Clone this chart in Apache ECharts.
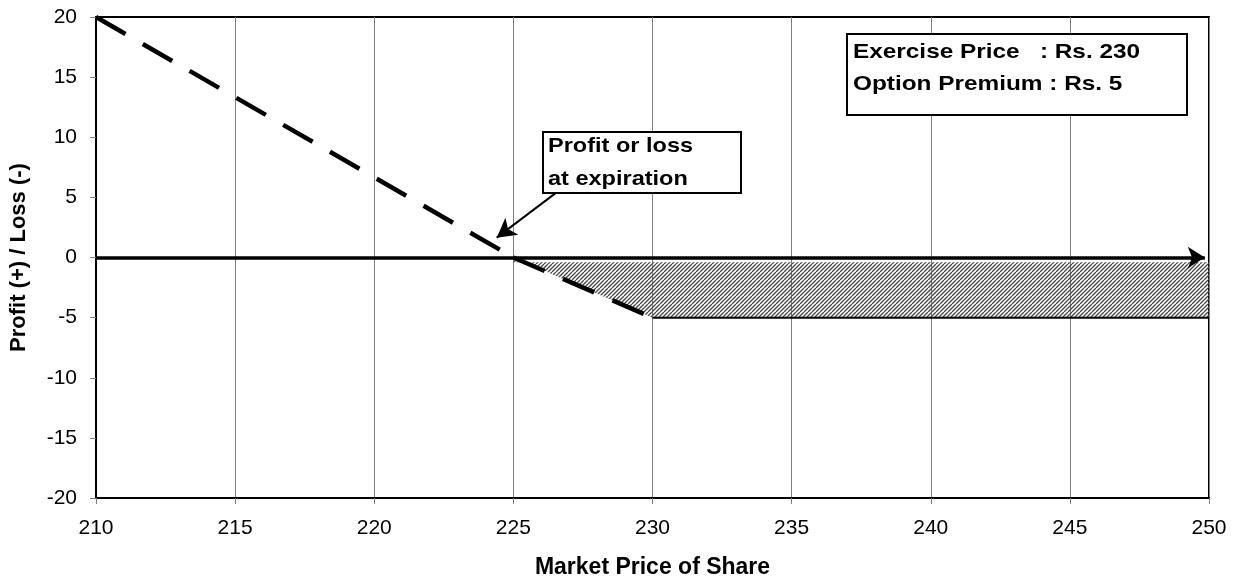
<!DOCTYPE html>
<html>
<head>
<meta charset="utf-8">
<script src="https://cdn.jsdelivr.net/npm/echarts@6/dist/echarts.min.js"></script>
<style>
  html, body { margin: 0; padding: 0; background: #fff; }
  #chart { width: 1245px; height: 584px; }
</style>
</head>
<body>
<div id="chart"></div>
<script>
// payoff of the long put at expiration
var payoffPrices = [210, 225, 230];
var payoffValues = [20, 0, -5];
var flatPrices = [230, 250];
var flatValues = [-5, -5];
// hatched loss zone (premium lost)
var hatchPrices = [225, 230, 250];
var hatchValues = [0, -5, -5];
// zero axis arrow and callout arrow
var zeroArrow = [[210, 0], [249.85, 0]];
var calloutArrow = [[226.6, 5.5], [224.4, 1.65]];

var xTicks = [210, 215, 220, 225, 230, 235, 240, 245, 250];

var chartDom = document.getElementById('chart');
var myChart = echarts.init(chartDom);

// diagonal hatch pattern
var pat = document.createElement('canvas');
pat.width = 8; pat.height = 8;
var ctx = pat.getContext('2d');
ctx.strokeStyle = '#4a4a4a';
ctx.lineWidth = 1.3;
for (var c = -8; c <= 24; c += 4) {
  ctx.beginPath();
  ctx.moveTo(c, 8);
  ctx.lineTo(c + 8, 0);
  ctx.stroke();
}

// dashed segments restart at each point, like the original
var dashSeries = [];
for (var i = 0; i < payoffPrices.length - 1; i++) {
  dashSeries.push({
    type: 'line',
    data: [[payoffPrices[i], payoffValues[i]], [payoffPrices[i + 1], payoffValues[i + 1]]],
    showSymbol: false,
    lineStyle: { color: '#000', width: 4.5, type: [34, 20], cap: 'butt' },
    z: 5
  });
}

var option = {
  backgroundColor: '#fff',
  animation: false,
  grid: {
    left: 96, right: 36, top: 17, bottom: 86,
    show: true, borderColor: '#000', borderWidth: 2
  },
  xAxis: {
    type: 'value',
    min: 210, max: 250, interval: 5,
    name: 'Market Price of Share',
    nameLocation: 'middle',
    nameGap: 58,
    nameTextStyle: { fontFamily: 'Liberation Sans', fontWeight: 'bold', fontSize: 23, color: '#000' },
    axisLine: { onZero: false, lineStyle: { color: '#000', width: 2 } },
    axisTick: { show: true, length: 6, lineStyle: { color: '#808080' } },
    axisLabel: {
      fontFamily: 'Liberation Sans', fontSize: 21, color: '#000', margin: 20,
      formatter: function (v) { return xTicks.indexOf(v) >= 0 ? String(v) : ''; }
    },
    splitLine: { show: true, lineStyle: { color: '#808080', width: 1 } }
  },
  yAxis: {
    type: 'value',
    min: -20, max: 20, interval: 5,
    name: 'Profit (+) / Loss (-)',
    nameLocation: 'middle',
    nameGap: 66,
    nameTextStyle: { fontFamily: 'Liberation Sans', fontWeight: 'bold', fontSize: 22, color: '#000' },
    axisLine: { show: true, lineStyle: { color: '#000', width: 2 } },
    axisTick: { show: true, length: 6, lineStyle: { color: '#808080' } },
    axisLabel: { fontFamily: 'Liberation Sans', fontSize: 21, color: '#000', margin: 19 },
    splitLine: { show: false }
  },
  series: dashSeries.concat([
    {
      type: 'line',
      data: hatchPrices.map(function (p, i) { return [p, hatchValues[i]]; }),
      showSymbol: false,
      lineStyle: { width: 0 },
      areaStyle: { color: { image: pat, repeat: 'repeat' }, opacity: 1, origin: -0.4 },
      z: 2
    },
    {
      type: 'line',
      data: flatPrices.map(function (p, i) { return [p, flatValues[i]]; }),
      showSymbol: false,
      lineStyle: { color: '#000', width: 2 },
      z: 4,
      markLine: {
        silent: true,
        animation: false,
        label: { show: false },
        symbol: ['none', 'arrow'],
        data: [
          [
            { coord: zeroArrow[0], symbolSize: 1, lineStyle: { color: '#000', width: 3.5, type: 'solid' } },
            { coord: zeroArrow[1], symbolSize: [16, 17] }
          ],
          [
            { coord: calloutArrow[0], symbolSize: 1, lineStyle: { color: '#000', width: 2, type: 'solid' } },
            { coord: calloutArrow[1], symbolSize: [16, 19] }
          ]
        ]
      }
    }
  ]),
  graphic: [
    {
      type: 'rect', left: 846, top: 33, z: 100,
      shape: { width: 340, height: 81 },
      style: { fill: '#fff', stroke: '#000', lineWidth: 2 }
    },
    {
      type: 'text', x: 853, y: 36, z: 101, scaleX: 1.16,
      style: {
        text: 'Exercise Price   : Rs. 230\nOption Premium : Rs. 5',
        font: 'bold 21px "Liberation Sans"', fill: '#000', lineHeight: 32
      }
    },
    {
      type: 'rect', left: 542, top: 131, z: 100,
      shape: { width: 198, height: 61 },
      style: { fill: '#fff', stroke: '#000', lineWidth: 2 }
    },
    {
      type: 'text', x: 548, y: 130, z: 101, scaleX: 1.12,
      style: {
        text: 'Profit or loss\nat expiration',
        font: 'bold 21px "Liberation Sans"', fill: '#000', lineHeight: 33
      }
    }
  ]
};

myChart.setOption(option);
</script>
</body>
</html>
